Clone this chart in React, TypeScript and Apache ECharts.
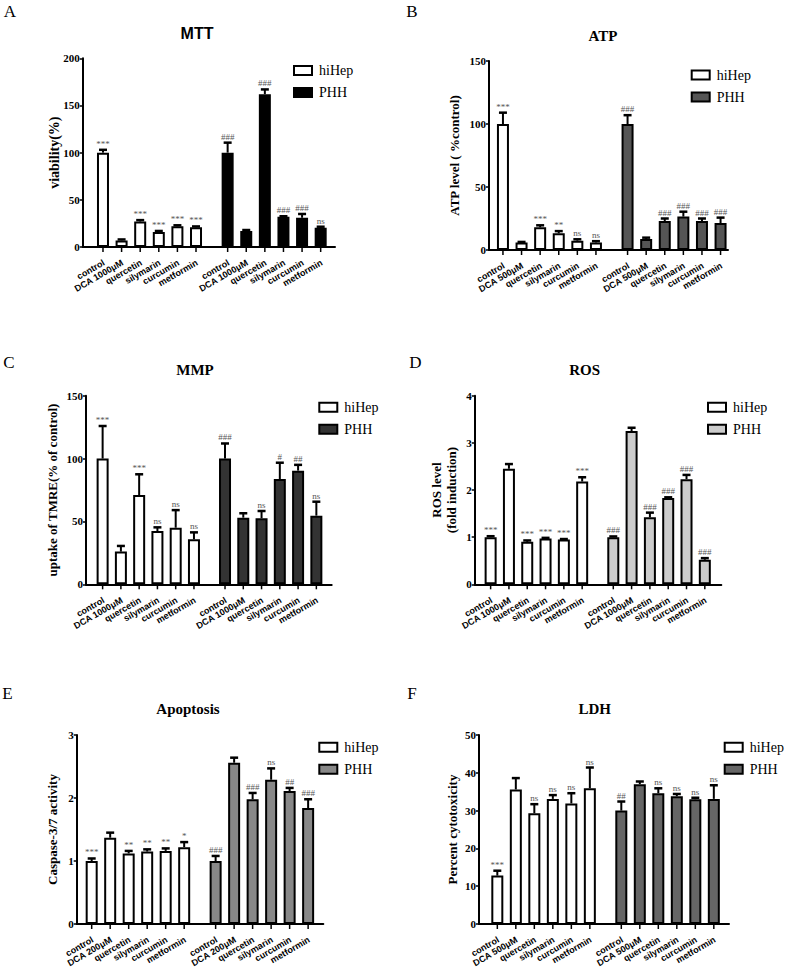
import React, { useEffect, useRef } from 'react';
import * as echarts from 'echarts';

const SERIF = '"Liberation Serif", "Times New Roman", serif';
const SANS = '"Liberation Sans", Arial, sans-serif';

// ---- categories ----
const DRUGS = ['quercetin', 'silymarin', 'curcumin', 'metformin'];
const catsA = ['control', 'DCA 1000μM', ...DRUGS];
const catsB = ['control', 'DCA 500μM', ...DRUGS];
const catsC = ['control', 'DCA 1000μM', ...DRUGS];
const catsD = ['control', 'DCA 1000μM', ...DRUGS];
const catsE = ['control', 'DCA 200μM', ...DRUGS];
const catsF = ['control', 'DCA 500μM', ...DRUGS];

// bar positions along the x value axis (group 1 / group 2)
const HI_POS = [0, 1, 2, 3, 4, 5];
const PHH_POS = [6.7, 7.7, 8.7, 9.7, 10.7, 11.7];

// ---- A: MTT ----
const mttHi = [100, 7, 27, 16, 22, 21];
const mttHiSd = [3, 1, 1.5, 1, 1, 0.8];
const mttPhh = [100, 17, 162, 32, 31, 20.5];
const mttPhhSd = [10.6, 1, 5, 0.6, 4, 1];
const mttSigHi = ['***', '', '***', '***', '***', '***'];
const mttSigPhh = ['###', '', '###', '###', '###', 'ns'];

// ---- B: ATP ----
const atpHi = [100, 6, 18, 13.2, 7.4, 6];
const atpHiSd = [9, 0.4, 1.6, 1.8, 1.1, 1];
const atpPhh = [100, 8.7, 23, 26.5, 23, 21.4];
const atpPhhSd = [7, 1.1, 2, 3.9, 2, 4.3];
const atpSigHi = ['***', '', '***', '**', 'ns', 'ns'];
const atpSigPhh = ['###', '', '###', '###', '###', '###'];

// ---- C: MMP ----
const mmpHi = [100, 26, 71, 42.4, 45, 35.8];
const mmpHiSd = [25.9, 4.5, 16.5, 2.9, 14, 5.5];
const mmpPhh = [100, 53, 52.5, 83.7, 90.4, 54.6];
const mmpPhhSd = [12, 3.5, 5.8, 13, 4.6, 11.1];
const mmpSigHi = ['***', '', '***', 'ns', 'ns', 'ns'];
const mmpSigPhh = ['###', '', 'ns', '#', '##', 'ns'];

// ---- D: ROS ----
const rosHi = [1.0, 2.45, 0.9, 0.97, 0.95, 2.18];
const rosHiSd = [0.02, 0.1, 0.03, 0.015, 0.01, 0.09];
const rosPhh = [1.0, 3.25, 1.42, 1.83, 2.23, 0.52];
const rosPhhSd = [0.015, 0.07, 0.1, 0.015, 0.09, 0.035];
const rosSigHi = ['***', '', '***', '***', '***', '***'];
const rosSigPhh = ['###', '', '###', '###', '###', '###'];

// ---- E: Apoptosis ----
const apoHi = [1.0, 1.37, 1.12, 1.15, 1.16, 1.22];
const apoHiSd = [0.04, 0.08, 0.04, 0.035, 0.04, 0.08];
const apoPhh = [1.0, 2.56, 1.98, 2.29, 2.11, 1.84];
const apoPhhSd = [0.08, 0.08, 0.1, 0.18, 0.05, 0.14];
const apoSigHi = ['***', '', '**', '**', '**', '*'];
const apoSigPhh = ['###', '', '###', 'ns', '##', '###'];

// ---- F: LDH ----
const ldhHi = [12.8, 35.6, 29.3, 33.1, 31.9, 35.9];
const ldhHiSd = [1.3, 3, 2.4, 1, 2.7, 5.5];
const ldhPhh = [30, 37, 34.6, 33.8, 33, 33.1];
const ldhPhhSd = [2.4, 0.7, 1.3, 0.6, 0.4, 3.6];
const ldhSigHi = ['***', '', 'ns', 'ns', 'ns', 'ns'];
const ldhSigPhh = ['##', '', 'ns', 'ns', 'ns', 'ns'];

const panels = [
  {
    letter: 'A', letterPos: [10, 11], title: 'MTT', titleFont: `bold 16px ${SANS}`, titlePos: [197, 33],
    grid: { left: 82.7, top: 58.3, width: 252.3, height: 188.7 }, xMin: -1.09, xMax: 12.47,
    yMax: 200, yInterval: 50, yName: 'viability(%)', nameGap: 21, nameSize: 14,
    legend: { left: 293, top: 63.5 }, phhColor: '#000000',
    cats: catsA, hi: mttHi, hiSd: mttHiSd, phh: mttPhh, phhSd: mttPhhSd, sigHi: mttSigHi, sigPhh: mttSigPhh,
  },
  {
    letter: 'B', letterPos: [412, 11], title: 'ATP', titleFont: `bold 15px ${SERIF}`, titlePos: [603, 36],
    grid: { left: 489, top: 61, width: 239, height: 189 }, xMin: -0.75, xMax: 12.1,
    yMax: 150, yInterval: 50, yName: 'ATP level ( %control)', nameGap: 27, nameSize: 13,
    legend: { left: 690.7, top: 68 }, phhColor: '#555555',
    cats: catsB, hi: atpHi, hiSd: atpHiSd, phh: atpPhh, phhSd: atpPhhSd, sigHi: atpSigHi, sigPhh: atpSigPhh,
  },
  {
    letter: 'C', letterPos: [9, 362], title: 'MMP', titleFont: `bold 15px ${SERIF}`, titlePos: [195, 370],
    grid: { left: 86, top: 395.7, width: 245.7, height: 188.6 }, xMin: -0.91, xMax: 12.54,
    yMax: 150, yInterval: 50, yName: 'uptake of TMRE(% of control)', nameGap: 26, nameSize: 13,
    legend: { left: 318.3, top: 400.3 }, phhColor: '#333333',
    cats: catsC, hi: mmpHi, hiSd: mmpHiSd, phh: mmpPhh, phhSd: mmpPhhSd, sigHi: mmpSigHi, sigPhh: mmpSigPhh,
  },
  {
    letter: 'D', letterPos: [415.5, 362], title: 'ROS', titleFont: `bold 15px ${SERIF}`, titlePos: [584.7, 370],
    grid: { left: 474.7, top: 395.7, width: 246.6, height: 188.6 }, xMin: -0.87, xMax: 12.6,
    yMax: 4, yInterval: 1, yName: 'ROS level\n(fold induction)', nameGap: 16, nameSize: 13,
    legend: { left: 707, top: 400.3 }, phhColor: '#cccccc',
    cats: catsD, hi: rosHi, hiSd: rosHiSd, phh: rosPhh, phhSd: rosPhhSd, sigHi: rosSigHi, sigPhh: rosSigPhh,
  },
  {
    letter: 'E', letterPos: [7.5, 693], title: 'Apoptosis', titleFont: `bold 15px ${SERIF}`, titlePos: [188, 709],
    grid: { left: 76.7, top: 735, width: 246.6, height: 189 }, xMin: -0.81, xMax: 12.52,
    yMax: 3, yInterval: 1, yName: 'Caspase-3/7 activity', nameGap: 17, nameSize: 13,
    legend: { left: 318.3, top: 740.3 }, phhColor: '#888888',
    cats: catsE, hi: apoHi, hiSd: apoHiSd, phh: apoPhh, phhSd: apoPhhSd, sigHi: apoSigHi, sigPhh: apoSigPhh,
  },
  {
    letter: 'F', letterPos: [412, 693], title: 'LDH', titleFont: `bold 15px ${SERIF}`, titlePos: [594.7, 709.3],
    grid: { left: 479, top: 735, width: 250, height: 189 }, xMin: -0.99, xMax: 12.52,
    yMax: 50, yInterval: 10, yName: 'Percent cytotoxicity', nameGap: 19, nameSize: 13,
    legend: { left: 723.7, top: 740.3 }, phhColor: '#666666',
    cats: catsF, hi: ldhHi, hiSd: ldhHiSd, phh: ldhPhh, phhSd: ldhPhhSd, sigHi: ldhSigHi, sigPhh: ldhSigPhh,
  },
];

function errRenderer(sd: number[], sig: string[]) {
  return (params: any, api: any) => {
    const x = api.value(0);
    const m = api.value(1);
    const s = sd[params.dataIndex];
    const p0 = api.coord([x, m]);
    const p1 = api.coord([x, m + s]);
    const children: any[] = [
      { type: 'line', shape: { x1: p0[0], y1: p0[1], x2: p1[0], y2: p1[1] }, style: { stroke: '#000', lineWidth: 2 } },
      { type: 'line', shape: { x1: p1[0] - 4, y1: p1[1], x2: p1[0] + 4, y2: p1[1] }, style: { stroke: '#000', lineWidth: 2.5 } },
    ];
    const t = sig[params.dataIndex];
    if (t) {
      children.push({
        type: 'text', x: p1[0], y: p1[1] - 1.5,
        style: { text: t, font: `9px ${SERIF}`, fill: '#555555', textAlign: 'center', align: 'center', textVerticalAlign: 'bottom', verticalAlign: 'bottom' },
      });
    }
    return { type: 'group', children };
  };
}

function labelRenderer(cats: string[]) {
  return (params: any, api: any) => {
    const x = api.value(0);
    const p = api.coord([x, 0]);
    return {
      type: 'group',
      children: [
        { type: 'line', shape: { x1: p[0], y1: p[1], x2: p[0], y2: p[1] + 5 }, style: { stroke: '#000', lineWidth: 1.5 } },
        {
          type: 'text', x: p[0] + 1, y: p[1] + 15, rotation: Math.PI / 6,
          style: { text: cats[params.dataIndex % 6], font: `bold 9px ${SANS}`, fill: '#000', textAlign: 'right', align: 'right', textVerticalAlign: 'middle', verticalAlign: 'middle' },
        },
      ],
    };
  };
}

function buildOption() {
  const grid: any[] = [];
  const xAxis: any[] = [];
  const yAxis: any[] = [];
  const series: any[] = [];
  const legend: any[] = [];
  const graphic: any[] = [];

  panels.forEach((p, i) => {
    grid.push({ ...p.grid });
    xAxis.push({
      type: 'value', gridIndex: i, min: p.xMin, max: p.xMax,
      axisLine: { show: true, onZero: false, lineStyle: { color: '#000', width: 2 } },
      axisTick: { show: false }, axisLabel: { show: false }, splitLine: { show: false },
    });
    yAxis.push({
      type: 'value', gridIndex: i, min: 0, max: p.yMax, interval: p.yInterval,
      name: p.yName, nameLocation: 'middle', nameGap: p.nameGap, nameMoveOverlap: false,
      nameTextStyle: { fontFamily: SERIF, fontWeight: 'bold', fontSize: p.nameSize, color: '#000', lineHeight: 15 },
      axisLine: { show: true, onZero: false, lineStyle: { color: '#000', width: 2 } },
      axisTick: { show: true, length: 3, lineStyle: { color: '#000', width: 1.5 } },
      axisLabel: { fontFamily: SERIF, fontWeight: 'bold', fontSize: 11, color: '#000', margin: 3 },
      splitLine: { show: false },
    });
    series.push({
      type: 'bar', name: 'hiHep', xAxisIndex: i, yAxisIndex: i,
      data: HI_POS.map((x, j) => [x, p.hi[j]]),
      barWidth: 12, barGap: '-100%',
      itemStyle: { color: '#ffffff', borderColor: '#000', borderWidth: 2 }, z: 2,
    });
    series.push({
      type: 'bar', name: 'PHH', xAxisIndex: i, yAxisIndex: i,
      data: PHH_POS.map((x, j) => [x, p.phh[j]]),
      barWidth: 12, barGap: '-100%',
      itemStyle: { color: p.phhColor, borderColor: '#000', borderWidth: 2 }, z: 2,
    });
    series.push({
      type: 'custom', xAxisIndex: i, yAxisIndex: i, z: 3, silent: true,
      data: HI_POS.map((x, j) => [x, p.hi[j]]),
      renderItem: errRenderer(p.hiSd, p.sigHi),
    });
    series.push({
      type: 'custom', xAxisIndex: i, yAxisIndex: i, z: 3, silent: true,
      data: PHH_POS.map((x, j) => [x, p.phh[j]]),
      renderItem: errRenderer(p.phhSd, p.sigPhh),
    });
    series.push({
      type: 'custom', xAxisIndex: i, yAxisIndex: i, z: 3, silent: true,
      data: [...HI_POS, ...PHH_POS].map((x) => [x, 0]),
      renderItem: labelRenderer(p.cats),
    });
    legend.push({
      left: p.legend.left, top: p.legend.top, orient: 'vertical', padding: 0,
      itemWidth: 18, itemHeight: 9, itemGap: 8, icon: 'rect', selectedMode: false,
      textStyle: { fontFamily: SERIF, fontSize: 14, color: '#000', padding: [0, 0, 0, 2] },
      data: [
        { name: 'hiHep', itemStyle: { color: '#ffffff', borderColor: '#000', borderWidth: 2 } },
        { name: 'PHH', itemStyle: { color: p.phhColor, borderColor: '#000', borderWidth: 2 } },
      ],
    });
    graphic.push({
      type: 'text', x: p.letterPos[0], y: p.letterPos[1],
      style: { text: p.letter, font: `17px ${SERIF}`, fill: '#000', textAlign: 'center', align: 'center', textVerticalAlign: 'middle', verticalAlign: 'middle' },
    });
    graphic.push({
      type: 'text', x: p.titlePos[0], y: p.titlePos[1],
      style: { text: p.title, font: p.titleFont, fill: '#000', textAlign: 'center', align: 'center', textVerticalAlign: 'middle', verticalAlign: 'middle' },
    });
  });

  return {
    animation: false,
    backgroundColor: '#ffffff',
    grid, xAxis, yAxis, series, legend, graphic,
  };
}

export default function App() {
  const ref = useRef<HTMLDivElement>(null);
  useEffect(() => {
    if (!ref.current) return;
    const chart = echarts.init(ref.current, undefined, { renderer: 'svg' });
    chart.setOption(buildOption() as any);
    return () => chart.dispose();
  }, []);
  return (
    <div
      ref={ref}
      style={{ position: 'absolute', left: 0, top: 0, width: 787, height: 970, background: '#fff' }}
    />
  );
}
